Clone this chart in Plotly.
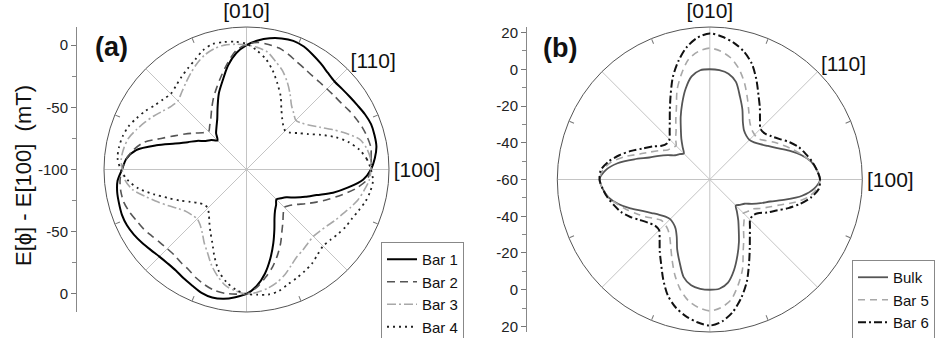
import plotly.graph_objects as go

# ---------------- data ----------------
THETA = [i * 5 for i in range(72)]  # degrees, 0 = [100], 90 = [010]

# panel (a): E[phi] - E[100] (mT)
BAR1 = ([0, 3.5, 6, 6.5, 6.5, 5, 3, 1.5, 0.5, 0, 1.5, 4, 6.5, 9, 10, 9, 7, 4]
        + [0, -6, -15, -26, -35, -45, -53, -58, -62, -67, -63, -60, -54, -48, -39, -25, -10, -3]
        + [0, 4, 5.5, 6, 6.5, 6, 4.5, 2.5, 0.5, -1, -1.5, -1, 1, 3, 5.5, 6.5, 5.5, 3]
        + [0, -6, -15, -26, -37, -47, -55, -60, -63, -66, -64, -61, -55, -48, -40, -28, -17, -6])
BAR2 = ([0, 0.5, 1.5, 0.5, -1, -3, -5, -7, -8, -8.5, -8.5, -8, -6.5, -4.5, -1.5, 1, 2, 2.5]
        + [0.5, -4, -13, -22, -30, -37, -44, -50, -54, -57, -54, -49, -43, -36, -27, -15, -8, -3]
        + [0, 2, 2.5, 2, 0, -2.5, -4.5, -7, -9, -10, -10, -8.5, -7, -4, -1.5, 0.5, 1, 0.5]
        + [0, -5, -12, -19, -27, -35, -43, -49, -54, -57, -55, -51, -45, -38, -30, -21, -11, -3])
BAR3 = ([0, 0, -2, -6, -15, -24, -32, -38, -42, -44, -41, -37, -30, -22.5, -15.5, -10, -4, -1.5]
        + [0, 1, 1.5, 0.5, -2, -6, -10.5, -15, -19, -22, -21, -18, -14, -10, -6, -2, 0, 1]
        + [0, -2, -7, -16, -24, -31, -37, -41, -43, -44, -42, -38, -32, -26, -18, -11, -5, -2]
        + [0, -1, -3, -6, -10, -15, -19, -21, -23, -24, -23, -21, -18, -15, -11, -7, -4, -1])
BAR4 = ([0, -3, -8, -15, -24, -34, -43, -49, -54, -56, -54, -50, -44, -35, -27, -18, -10, -4]
        + [1, 3, 4, 4.5, 2, -2.5, -6, -9, -12, -14, -12.5, -10, -6, -2.5, 1, 3, 4, 4]
        + [1, -4, -12, -23, -33, -41, -48, -53, -56, -56, -53, -48, -42, -35, -25, -15, -8, -3]
        + [0, 1, 2, 1, -2, -4, -6, -8, -11, -13, -12, -10, -8, -6.5, -4, -1, 1, 2])

# panel (b)
BULK = ([0, -1.5, -4, -8.5, -14, -19.5, -23.5, -26.5, -28.5, -29.5, -29, -27.5, -24, -18, -12, -5, -1.5, -0.3]
        + [0, -0.3, -3, -9, -16, -22.5, -28.5, -33, -37, -40, -38.5, -37, -33.5, -29.5, -25, -17.5, -9, -3]
        + [0, -1.5, -4, -8.5, -14, -19.5, -23.5, -26.5, -28.5, -29.5, -29, -27.5, -24, -18, -12, -5, -1.5, -0.3]
        + [0, -0.3, -3, -9, -16, -22.5, -28.5, -33, -37, -40, -38.5, -37, -33.5, -29.5, -25, -17.5, -9, -3])
BAR5 = ([0, -1.5, -4, -8, -12, -16, -19.5, -23, -25.5, -25.5, -24.5, -22, -17.5, -11.5, -4.5, 2, 7, 10]
        + [11.5, 10, 6.5, -0.5, -8, -17, -23, -28, -31, -34, -33, -32, -28.5, -24.5, -19.5, -12, -5.5, -1.5]
        + [0, -1.5, -4, -8, -12, -16, -19.5, -23, -25.5, -25.5, -24.5, -22, -17.5, -11.5, -4.5, 2, 7, 10]
        + [11.5, 10, 6.5, -0.5, -8, -17, -23, -28, -31, -34, -33, -32, -28.5, -24.5, -19.5, -12, -5.5, -1.5])
BAR6 = ([0, -1.5, -3.5, -6, -8.5, -12, -16, -19, -21, -21, -17.5, -12.5, -7, 0, 7, 12, 15.5, 18]
        + [19.5, 17.5, 13, 6.5, -1, -9.5, -16.5, -22, -26, -29, -29.5, -28, -24, -20, -14.5, -9, -4, -0.5]
        + [0, -1.5, -3.5, -6, -8.5, -12, -16, -19, -21, -21, -17.5, -12.5, -7, 0, 7, 12, 15.5, 18]
        + [19.5, 17.5, 13, 6.5, -1, -9.5, -16.5, -22, -26, -29, -29.5, -28, -24, -20, -14.5, -9, -4, -0.5])

DIR_VALS = [0, 45, 90, 135, 180, 225, 270, 315]
DIR_TEXT = ["[100]", "[110]", "[010]", "", "", "", "", ""]
MINOR_DIRS = [22.5, 67.5, 112.5, 157.5, 202.5, 247.5, 292.5, 337.5]

A_TICKVALS = [100, 50, 0, -50, -100]
A_TICKTEXT = ["0", "-50", "-100", "-50", "0"]
A_MINOR = [75, 25, -25, -75]
B_TICKVALS = [80, 60, 40, 20, 0, -20, -40, -60, -80]
B_TICKTEXT = ["20", "0", "-20", "-40", "-60", "-40", "-20", "0", "20"]
B_MINOR = [70, 50, 30, 10, -10, -30, -50, -70]

A_RANGE = [-100, 14.5]
B_RANGE = [-60, 23]

FONT = "Liberation Sans, Arial, sans-serif"
W, H = 948, 338


def closed(v):
    return list(v) + [v[0]]


th = closed(THETA)

fig = go.Figure()

series_a = [
    ("Bar 1", BAR1, "#000000", "solid", 2.0),
    ("Bar 2", BAR2, "#555555", "8px,5px", 1.6),
    ("Bar 3", BAR3, "#a8a8a8", "9px,3px,2px,3px", 1.6),
    ("Bar 4", BAR4, "#222222", "2px,4px", 1.8),
]
for name, vals, col, dash, wdt in series_a:
    fig.add_trace(go.Scatterpolar(
        r=closed(vals), theta=th, mode="lines", name=name, subplot="polar",
        line=dict(color=col, dash=dash, width=wdt, shape="spline", smoothing=0.8),
        legend="legend"))

series_b = [
    ("Bulk", BULK, "#555555", "solid", 1.8),
    ("Bar 5", BAR5, "#a8a8a8", "7px,5px", 1.6),
    ("Bar 6", BAR6, "#111111", "8px,3px,2px,3px", 2.0),
]
for name, vals, col, dash, wdt in series_b:
    fig.add_trace(go.Scatterpolar(
        r=closed(vals), theta=th, mode="lines", name=name, subplot="polar2",
        line=dict(color=col, dash=dash, width=wdt, shape="spline", smoothing=0.8),
        legend="legend2"))

# empty traces to hold minor-tick overlays and the side axes
for sp in ("polar3", "polar4"):
    fig.add_trace(go.Scatterpolar(r=[], theta=[], subplot=sp, showlegend=False))
fig.add_trace(go.Scatter(x=[], y=[], xaxis="x", yaxis="y", showlegend=False))
fig.add_trace(go.Scatter(x=[], y=[], xaxis="x", yaxis="y2", showlegend=False))

# geometry of the two panels (pixels)
ca, ra = (246.5, 169.5), 142.5
cb, rb = (709.8, 179.5), 152.5


def dom(c, r):
    return dict(x=[(c[0] - r) / W, (c[0] + r) / W],
                y=[(H - c[1] - r) / H, (H - c[1] + r) / H])


def polar_main(c, r, rng):
    return dict(
        domain=dom(c, r), bgcolor="white",
        radialaxis=dict(range=rng, showline=False, showgrid=False, ticks="",
                        showticklabels=False),
        angularaxis=dict(rotation=0, direction="counterclockwise",
                         tickvals=DIR_VALS, ticktext=DIR_TEXT, ticks="",
                         showline=True, linecolor="#555555", linewidth=1,
                         showgrid=True, gridcolor="#c4c4c4", gridwidth=1,
                         tickfont=dict(family=FONT, size=21, color="#111111")),
    )


def polar_minor(c, r):
    return dict(
        domain=dom(c, r), bgcolor="rgba(0,0,0,0)",
        radialaxis=dict(visible=False),
        angularaxis=dict(rotation=0, direction="counterclockwise",
                         tickvals=MINOR_DIRS, ticks="inside", ticklen=5,
                         tickcolor="#777777", showticklabels=False,
                         showline=False, showgrid=False),
    )


def side_axis(c, r, half, xpos, tv, tt, mv):
    return dict(
        domain=[(H - c[1] - r) / H, (H - c[1] + r) / H],
        range=[-half, half], anchor="free", position=xpos, side="left",
        tickvals=tv, ticktext=tt, ticks="outside", ticklen=5, tickcolor="#777777",
        showline=True, linecolor="#888888", linewidth=1, showgrid=False,
        zeroline=False, tickfont=dict(family=FONT, size=15, color="#222222"),
        minor=dict(tickvals=mv, ticks="outside", ticklen=4, tickcolor="#888888"),
        automargin=False, fixedrange=True)


half_a = A_RANGE[1] - A_RANGE[0]
half_b = B_RANGE[1] - B_RANGE[0]

legend_style = dict(xanchor="left", yanchor="top", bgcolor="white",
                    bordercolor="#888888", borderwidth=1,
                    font=dict(family=FONT, size=15, color="#111111"),
                    itemwidth=30, tracegroupgap=0)

fig.update_layout(
    width=W, height=H, autosize=False,
    margin=dict(l=0, r=0, t=0, b=0, pad=0, autoexpand=False),
    paper_bgcolor="white", plot_bgcolor="rgba(0,0,0,0)",
    font=dict(family=FONT, color="#111111"),
    polar=polar_main(ca, ra, A_RANGE),
    polar2=polar_main(cb, rb, B_RANGE),
    polar3=polar_minor(ca, ra),
    polar4=polar_minor(cb, rb),
    xaxis=dict(visible=False, domain=[0.0, 0.01], fixedrange=True),
    yaxis=side_axis(ca, ra, half_a, 76 / W, A_TICKVALS, A_TICKTEXT, A_MINOR),
    yaxis2=side_axis(cb, rb, half_b, 526 / W, B_TICKVALS, B_TICKTEXT, B_MINOR),
    legend=dict(x=381 / W, y=1 - 242 / H, **legend_style),
    legend2=dict(x=852 / W, y=1 - 260 / H, **legend_style),
    annotations=[
        dict(text="<b>(a)</b>", x=111 / W, y=1 - 47 / H, xref="paper", yref="paper",
             showarrow=False, font=dict(family=FONT, size=27, color="#111111"),
             xanchor="center", yanchor="middle"),
        dict(text="<b>(b)</b>", x=560 / W, y=1 - 47.5 / H, xref="paper", yref="paper",
             showarrow=False, font=dict(family=FONT, size=27, color="#111111"),
             xanchor="center", yanchor="middle"),
        dict(text="E[ϕ] - E[100]  (mT)", x=23 / W, y=1 - 176 / H, xref="paper",
             yref="paper", showarrow=False, textangle=-90,
             font=dict(family=FONT, size=22, color="#111111"),
             xanchor="center", yanchor="middle"),
    ],
)

fig.write_html("out.html")
